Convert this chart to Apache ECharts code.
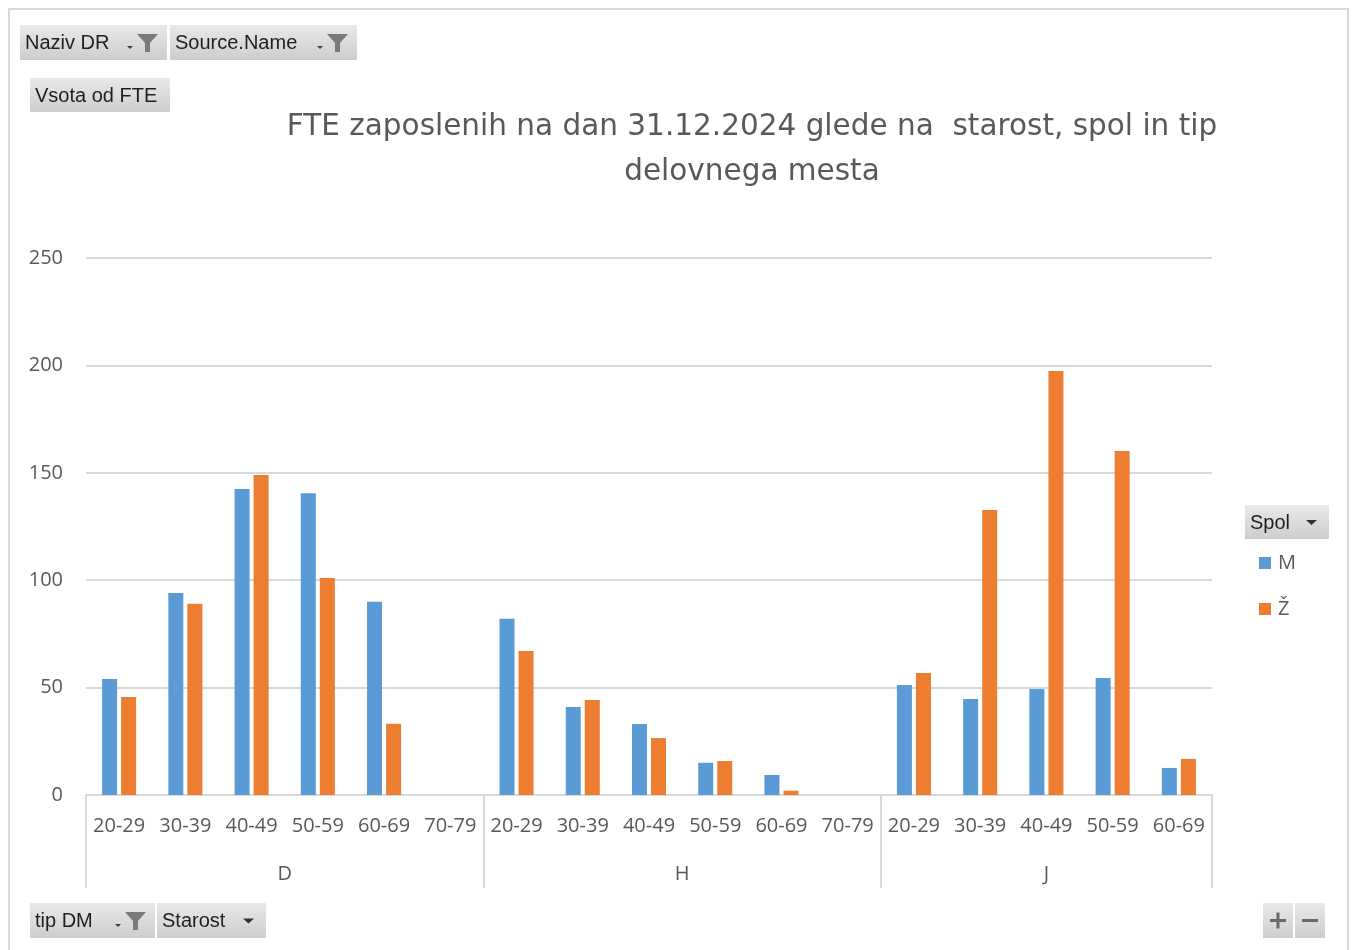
<!DOCTYPE html>
<html>
<head>
<meta charset="utf-8">
<script src="https://cdn.jsdelivr.net/npm/echarts@6/dist/echarts.min.js"></script>
<style>
  html, body { margin: 0; padding: 0; background: #fff; }
  #chart { width: 1357px; height: 950px; }
</style>
</head>
<body>
<div id="chart"></div>
<script>
// kategorije (tip DM -> starost)
var groups = ['D', 'H', 'J'];
var groupAges = [
    ['20-29', '30-39', '40-49', '50-59', '60-69', '70-79'],
    ['20-29', '30-39', '40-49', '50-59', '60-69', '70-79'],
    ['20-29', '30-39', '40-49', '50-59', '60-69']
];
// Vsota od FTE po spolu
var valuesM = [54, 94, 142.5, 140.5, 90, null,   82, 41, 33, 15, 9.3, null,   51.2, 44.7, 49.3, 54.5, 12.6];
var valuesZ = [45.6, 89, 149, 101, 33.2, null,   67, 44.2, 26.5, 15.8, 2, null,   56.8, 132.7, 197.4, 160.1, 16.8];
var yTicks = [0, 50, 100, 150, 200, 250];

var ages = [];
var bounds = [0];
var centers = [];
groupAges.forEach(function(g) {
    var start = ages.length;
    ages = ages.concat(g);
    bounds.push(ages.length);
    centers.push(start + g.length / 2);
});

var FONT = '"Open Sans", "Noto Sans", sans-serif';
var TITLE_FONT = '"DejaVu Sans", "Open Sans", sans-serif';
var BTN_FONT = '"Liberation Sans", Arial, sans-serif';
var gray = '#595959';

function button(x, y, w, h, label, icon) {
    var els = [{
        type: 'rect',
        shape: { x: x, y: y, width: w, height: h },
        style: {
            fill: new echarts.graphic.LinearGradient(0, 0, 0, 1, [
                { offset: 0, color: '#e9e9e9' },
                { offset: 1, color: '#cdcdcd' }
            ])
        }
    }];
    if (label) {
        els.push({
            type: 'text',
            style: { x: x + 5, y: y + h / 2 + 1, text: label, fill: '#1f1f1f', font: '20px ' + BTN_FONT, verticalAlign: 'middle' }
        });
    }
    if (icon === 'filter') {
        var fx = x + w - 30, fy = y + 9;
        els.push({
            type: 'polygon',
            shape: { points: [[fx, fy], [fx + 21, fy], [fx + 13, fy + 9], [fx + 13, fy + 18], [fx + 8, fy + 18], [fx + 8, fy + 9]] },
            style: { fill: '#7a7a7a' }
        });
        els.push({
            type: 'polygon',
            shape: { points: [[fx - 10, fy + 12], [fx - 4, fy + 12], [fx - 7, fy + 15]] },
            style: { fill: '#404040' }
        });
    } else if (icon === 'arrow') {
        var ax = x + w - 23, ay = y + h / 2 - 2;
        els.push({
            type: 'polygon',
            shape: { points: [[ax, ay], [ax + 11, ay], [ax + 5.5, ay + 5]] },
            style: { fill: '#303030' }
        });
    } else if (icon === 'plus' || icon === 'minus') {
        var cx = x + w / 2, cy = y + h / 2;
        els.push({
            type: 'rect',
            shape: { x: cx - 8, y: cy - 1.5, width: 16, height: 3 },
            style: { fill: '#6a6a6a' }
        });
        if (icon === 'plus') {
            els.push({
                type: 'rect',
                shape: { x: cx - 1.5, y: cy - 8, width: 3, height: 16 },
                style: { fill: '#6a6a6a' }
            });
        }
    }
    return els;
}

var graphics = [{
    type: 'rect',
    shape: { x: 9, y: 9, width: 1339, height: 950 },
    style: { fill: 'none', stroke: '#d9d9d9', lineWidth: 2 }
}];
graphics = graphics
    .concat(button(20, 25, 147, 35, 'Naziv DR', 'filter'))
    .concat(button(170, 25, 187, 35, 'Source.Name', 'filter'))
    .concat(button(30, 78, 140, 34, 'Vsota od FTE'))
    .concat(button(30, 903, 125, 35, 'tip DM', 'filter'))
    .concat(button(157, 903, 109, 35, 'Starost', 'arrow'))
    .concat(button(1245, 505, 84, 34, 'Spol', 'arrow'))
    .concat(button(1263, 903, 30, 35, '', 'plus'))
    .concat(button(1295, 903, 30, 35, '', 'minus'));

var myChart = echarts.init(document.getElementById('chart'));
var option = {
    backgroundColor: '#fff',
    animation: false,
    title: {
        text: 'FTE zaposlenih na dan 31.12.2024 glede na  starost, spol in tip\ndelovnega mesta',
        left: 747,
        textAlign: 'center',
        top: 100,
        textStyle: { fontFamily: TITLE_FONT, fontSize: 29.5, fontWeight: 'normal', color: gray, lineHeight: 45 }
    },
    legend: {
        orient: 'vertical',
        left: 1254,
        top: 548,
        icon: 'rect',
        itemWidth: 12,
        itemHeight: 12,
        itemGap: 26,
        textStyle: { fontFamily: FONT, fontSize: 20, color: gray, padding: [0, 0, 0, 2] },
        data: ['M', 'Ž']
    },
    grid: { left: 86, right: 145, top: 258, bottom: 155 },
    xAxis: [{
        type: 'category',
        data: ages,
        axisTick: { show: false },
        axisLine: { lineStyle: { color: '#d9d9d9', width: 2 } },
        axisLabel: { interval: 0, margin: 21, fontFamily: FONT, fontSize: 20, color: gray }
    }, {
        type: 'value',
        position: 'bottom',
        min: 0,
        max: ages.length,
        axisLine: { show: false },
        splitLine: { show: false },
        axisTick: {
            show: true,
            customValues: bounds,
            length: 93,
            lineStyle: { color: '#d9d9d9', width: 2 }
        },
        axisLabel: {
            customValues: centers,
            margin: 69,
            fontFamily: FONT,
            fontSize: 20,
            color: gray,
            formatter: function(v) {
                var i = centers.indexOf(v);
                return i >= 0 ? groups[i] : '';
            }
        }
    }],
    yAxis: {
        type: 'value',
        min: yTicks[0],
        max: yTicks[yTicks.length - 1],
        interval: 50,
        axisLine: { show: false },
        axisTick: { show: false },
        splitLine: { lineStyle: { color: '#d9d9d9', width: 2 } },
        axisLabel: { margin: 23, fontFamily: FONT, fontSize: 20, color: gray }
    },
    series: [{
        name: 'M',
        type: 'bar',
        xAxisIndex: 0,
        data: valuesM,
        barWidth: 15,
        barGap: '27%',
        itemStyle: { color: '#5b9bd5' }
    }, {
        name: 'Ž',
        type: 'bar',
        xAxisIndex: 0,
        data: valuesZ,
        barWidth: 15,
        itemStyle: { color: '#ed7d31' }
    }],
    graphic: graphics
};
myChart.setOption(option);
</script>
</body>
</html>
